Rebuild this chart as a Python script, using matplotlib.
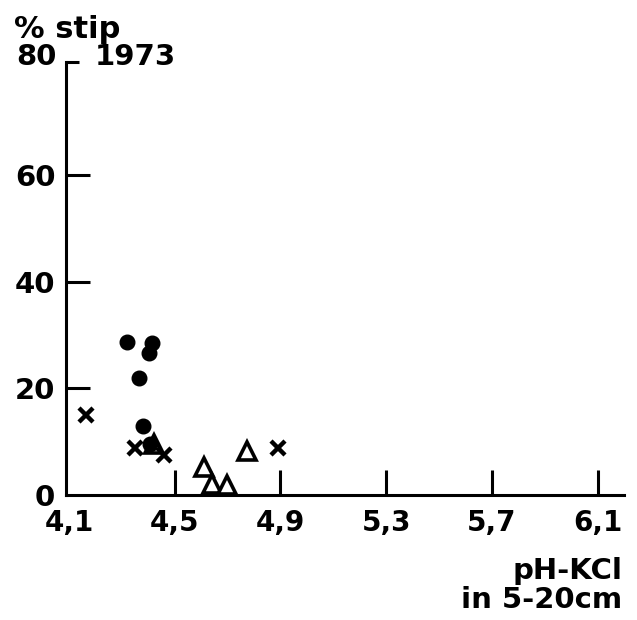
import matplotlib
matplotlib.use("Agg")
import matplotlib.pyplot as plt
from matplotlib.ticker import FixedLocator

plt.rcParams['font.family'] = ['DejaVu Sans']
plt.rcParams['font.weight'] = 'bold'

# pH-KCl (5-20 cm) versus % stip, 1973
circle_ph = [4.318, 4.413, 4.404, 4.365, 4.381, 4.405]
circle_pct = [28.8, 28.5, 26.7, 22.0, 13.0, 9.6]

cross_ph = [4.164, 4.350, 4.459, 4.892]
cross_pct = [15.0, 8.8, 7.5, 8.8]

tri_ph = [4.420, 4.611, 4.640, 4.697, 4.775]
tri_pct = [9.6, 5.3, 2.0, 1.9, 8.3]

x_ticks = [4.1, 4.5, 4.9, 5.3, 5.7, 6.1]
x_labels = ["4,1", "4,5", "4,9", "5,3", "5,7", "6,1"]
y_ticks = [0, 20, 40, 60]
y_labels = ["0", "20", "40", "60"]
y_top_label = "80"
y_axis_end = 81.3

fig = plt.figure(figsize=(6.37, 6.2), dpi=100)
ax = fig.add_axes([0.1042, 0.2016, 0.8754, 0.6984])

ink = "#000000"
lw = 2.2

ax.plot(tri_ph, tri_pct, linestyle="none", marker="^", markersize=13,
        markerfacecolor="white", markeredgecolor=ink, markeredgewidth=2.6,
        clip_on=False, zorder=3)
ax.plot(circle_ph, circle_pct, linestyle="none", marker="o", markersize=10.5,
        markerfacecolor=ink, markeredgecolor=ink, clip_on=False, zorder=4)
ax.plot(cross_ph, cross_pct, linestyle="none", marker="x", markersize=10.5,
        markeredgecolor=ink, markeredgewidth=3.2, clip_on=False, zorder=4)

ax.set_xlim(4.09, 6.2)
ax.set_ylim(0, y_axis_end)

for side in ("top", "right"):
    ax.spines[side].set_visible(False)
for side in ("left", "bottom"):
    ax.spines[side].set_linewidth(lw)
    ax.spines[side].set_color(ink)

ax.set_xticks(x_ticks)
ax.set_xticklabels(x_labels)
ax.set_yticks(y_ticks)
ax.set_yticklabels(y_labels)
ax.yaxis.set_minor_locator(FixedLocator([y_axis_end]))

ax.tick_params(axis="x", which="major", direction="in", length=18, width=lw,
               pad=10, labelsize=20, colors=ink)
ax.tick_params(axis="y", which="major", direction="in", length=17, width=lw,
               pad=8, labelsize=21, colors=ink)
ax.tick_params(axis="y", which="minor", direction="in", length=9, width=lw,
               colors=ink)
ax.xaxis.get_major_ticks()[0].tick1line.set_visible(False)
ax.yaxis.get_major_ticks()[0].tick1line.set_visible(False)

ax.text(-0.017, 1.012, y_top_label, transform=ax.transAxes, ha="right",
        va="center", fontsize=21, fontweight="bold", color=ink)
ax.text(0.05, 1.012, "1973", transform=ax.transAxes, ha="left", va="center",
        fontsize=21, fontweight="bold", color=ink)

fig.text(0.022, 0.952, "% stip", ha="left", va="center",
         fontsize=22, fontweight="bold", color=ink)
fig.text(0.977, 0.056, "pH-KCl\nin 5-20cm", ha="right", va="center",
         fontsize=21, fontweight="bold", color=ink, linespacing=1.05,
         multialignment="right")

fig.savefig("out.png", dpi=100, facecolor="white")
